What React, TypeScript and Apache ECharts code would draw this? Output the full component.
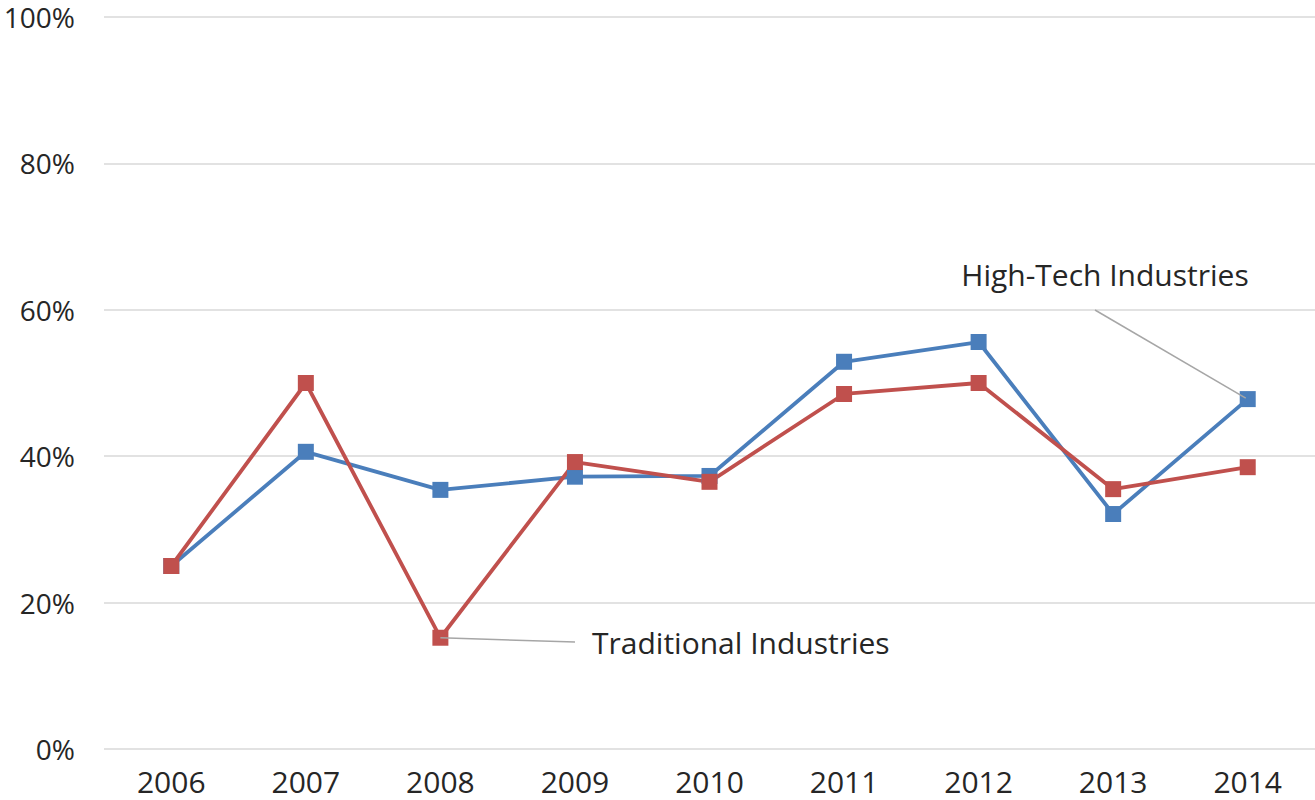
import React, { useEffect, useRef } from "react";
import * as echarts from "echarts";

const years = ["2006", "2007", "2008", "2009", "2010", "2011", "2012", "2013", "2014"];
const highTech = [25.0, 40.6, 35.4, 37.2, 37.3, 52.9, 55.6, 32.1, 47.8];
const traditional = [25.0, 50.0, 15.2, 39.2, 36.5, 48.5, 50.0, 35.5, 38.5];

const BLUE = "#4a7ebb";
const RED = "#c0504d";
const FONT = "'Open Sans', sans-serif";
const TEXT = "#262626";

export default function App() {
  const ref = useRef<HTMLDivElement>(null);

  useEffect(() => {
    document.body.style.margin = "0";
    if (!ref.current) return;
    const chart = echarts.init(ref.current, undefined, { renderer: "svg" });

    const seriesBase = {
      type: "line" as const,
      symbol: "rect",
      symbolSize: 16,
    };

    chart.setOption({
      animation: false,
      backgroundColor: "#ffffff",
      grid: { left: 104, right: 0, top: 17, bottom: 51, outerBoundsMode: "none" },
      xAxis: {
        type: "category",
        data: years,
        axisLine: { show: false },
        axisTick: { show: false },
        axisLabel: { fontFamily: FONT, fontSize: 30, color: TEXT, margin: 17 },
      },
      yAxis: {
        type: "value",
        min: 0,
        max: 100,
        interval: 20,
        axisLine: { show: false },
        axisTick: { show: false },
        splitLine: { lineStyle: { color: "#d9d9d9", width: 1.5 } },
        axisLabel: {
          fontFamily: FONT,
          fontSize: 28,
          lineHeight: 28,
          color: TEXT,
          margin: 29,
          formatter: "{value}%",
        },
      },
      series: [
        { ...seriesBase, name: "High-Tech Industries", data: highTech, itemStyle: { color: BLUE }, lineStyle: { width: 3.8, color: BLUE } },
        { ...seriesBase, name: "Traditional Industries", data: traditional, itemStyle: { color: RED }, lineStyle: { width: 3.8, color: RED } },
      ],
    });

    // Leader lines from the annotated points to their labels
    const hp = chart.convertToPixel({ seriesIndex: 0 }, ["2014", highTech[8]]) as number[];
    const tp = chart.convertToPixel({ seriesIndex: 1 }, ["2008", traditional[2]]) as number[];

    chart.setOption({
      graphic: [
        {
          type: "line",
          shape: { x1: 1095, y1: 310, x2: hp[0] - 2, y2: hp[1] - 1 },
          style: { stroke: "#a6a6a6", lineWidth: 1.5 },
          z: 10,
        },
        {
          type: "text",
          x: 1105,
          y: 274,
          style: {
            text: "High-Tech Industries",
            font: `30px ${FONT}`,
            fill: TEXT,
            align: "center",
            verticalAlign: "middle",
          },
        },
        {
          type: "line",
          shape: { x1: tp[0], y1: tp[1], x2: 575, y2: 642 },
          style: { stroke: "#a6a6a6", lineWidth: 1.5 },
          z: 10,
        },
        {
          type: "text",
          x: 592,
          y: 642,
          style: {
            text: "Traditional Industries",
            font: `30px ${FONT}`,
            fill: TEXT,
            align: "left",
            verticalAlign: "middle",
          },
        },
      ],
    });

    return () => chart.dispose();
  }, []);

  return <div ref={ref} style={{ width: 1315, height: 800 }} />;
}
